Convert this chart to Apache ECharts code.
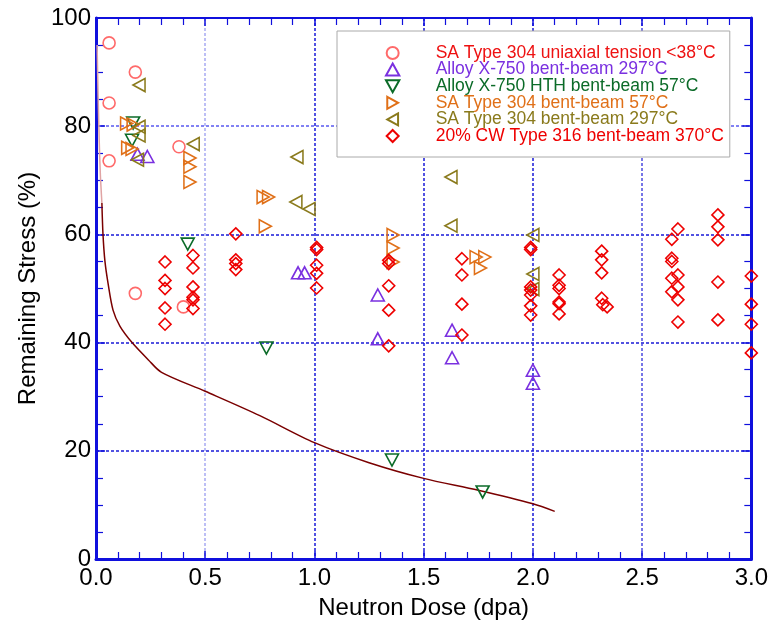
<!DOCTYPE html>
<html>
<head>
<meta charset="utf-8">
<script src="https://cdn.jsdelivr.net/npm/echarts@6/dist/echarts.min.js"></script>
<style>html,body{margin:0;padding:0;background:#fff}#c{width:771px;height:630px}</style>
</head>
<body>
<div id="c"></div>
<script>
// ---- data ----
const seriesNames = [
  'SA Type 304 uniaxial tension <38°C',
  'Alloy X-750 bent-beam 297°C',
  'Alloy X-750 HTH bent-beam 57°C',
  'SA Type 304 bent-beam 57°C',
  'SA Type 304 bent-beam 297°C',
  '20% CW Type 316 bent-beam 370°C'
];
const uniaxial304 = [[0.06,95.4],[0.06,84.3],[0.06,73.6],[0.18,90.0],[0.18,49.1],[0.38,76.2],[0.40,46.6]];
const x750_297 = [[0.19,74.8],[0.235,74.4],[0.925,52.9],[0.955,52.9],[1.29,48.8],[1.29,40.7],[1.63,42.3],[1.63,37.2],[2.0,34.9],[2.0,32.5]];
const x750HTH_57 = [[0.17,80.6],[0.165,77.4],[0.42,58.2],[0.78,39.0],[1.355,18.3],[1.77,12.4]];
const bb304_57 = [[0.14,80.5],[0.17,80.3],[0.145,76.0],[0.165,75.8],[0.43,74.1],[0.43,72.5],[0.43,69.7],[0.765,66.9],[0.79,66.9],[0.775,61.5],[1.36,59.9],[1.36,57.5],[1.36,54.9],[1.74,55.8],[1.78,55.8],[1.76,53.8]];
const bb304_297 = [[0.197,87.6],[0.197,79.9],[0.197,78.3],[0.19,73.8],[0.445,76.7],[0.92,74.3],[0.915,66.0],[0.975,64.7],[1.625,70.6],[1.625,61.6],[2.0,59.9],[2.0,52.7],[2.0,49.9]];
const cw316_370 = [
  [0.316,54.9],[0.316,51.5],[0.316,50.0],[0.316,46.4],[0.316,43.4],
  [0.444,56.1],[0.444,53.8],[0.444,50.3],[0.444,48.4],[0.444,47.9],[0.444,46.3],
  [0.64,60.1],[0.64,55.3],[0.64,54.6],[0.64,53.5],
  [1.01,57.6],[1.01,57.2],[1.01,54.3],[1.01,52.8],[1.01,50.1],
  [1.34,55.2],[1.34,54.6],[1.34,50.5],[1.34,46.0],[1.34,39.4],
  [1.675,55.5],[1.675,52.5],[1.675,47.1],[1.675,41.4],
  [1.99,57.6],[1.99,57.2],[1.99,50.3],[1.99,49.7],[1.99,48.8],[1.99,46.8],[1.99,45.1],
  [2.12,52.5],[2.12,50.6],[2.12,50.0],[2.12,47.5],[2.12,47.2],[2.12,45.3],
  [2.315,56.9],[2.315,55.3],[2.315,52.9],[2.315,48.2],[2.32,47.0],[2.34,46.6],
  [2.636,59.1],[2.636,55.6],[2.636,55.0],[2.636,51.9],[2.636,49.4],
  [2.664,61.0],[2.664,52.5],[2.664,50.3],[2.664,47.9],[2.664,43.8],
  [2.847,63.6],[2.847,61.4],[2.847,59.0],[2.847,51.2],[2.847,44.2],
  [3.0,52.3],[3.0,47.1],[3.0,43.4],[3.0,38.1]
];
const curvePaleX = [0.005,0.01,0.015,0.02,0.027];
const curvePaleY = [95,85,77,71,65.8];
const curveX = [0.027,0.032,0.041,0.055,0.078,0.11,0.165,0.24,0.3,0.5,0.75,1.0,1.25,1.5,1.75,2.0,2.1];
const curveY = [65.8,60,55,51,46,43,40,36.8,34.5,31,26.5,21.5,17.8,14.9,12.7,10.2,8.8];
const xTicks = ['0.0','0.5','1.0','1.5','2.0','2.5','3.0'];
const yTicks = ['0','20','40','60','80','100'];

// ---- styles ----
const colors = ['#ff5050','#7a30e0','#0b6b28','#e07018','#8a7a1c','#ee0000'];
const textColors = ['#ee1111','#7a30e0','#0b6b28','#e07018','#8a7a1c','#ee0000'];
const SYM = {
  circle: 'circle',
  up: 'path://M5,0L10,9L0,9Z',
  down: 'path://M0,0L10,0L5,9Z',
  right: 'path://M0,0L9,5L0,10Z',
  left: 'path://M9,0L0,5L9,10Z',
  diamond: 'path://M5,0L10,5L5,10L0,5Z'
};
const symKeys = ['circle','up','down','right','left','diamond'];
const symSizes = [12,[13,12],[13,12],[12,13],[12,13],12];
const FONT = 'Liberation Sans, Arial, sans-serif';
const AX = '#1010dd';
const GRIDC = '#1a1ad8';

const chart = echarts.init(document.getElementById('c'), null, {renderer:'canvas'});

function scatter(i, data) {
  return {
    name: seriesNames[i], type: 'scatter', data: data,
    symbol: SYM[symKeys[i]], symbolSize: symSizes[i],
    itemStyle: {color: 'rgba(255,255,255,0)', borderColor: colors[i], borderWidth: 1.6, opacity: i === 0 ? 0.85 : 1},
    z: 3 + i
  };
}

const xAxisBase = {
  type: 'value', min: 0, max: 3, interval: 0.5,
  axisLine: {onZero: false, lineStyle: {color: AX, width: 3}},
  axisTick: {inside: true, length: 8, lineStyle: {color: AX, width: 1.5}},
  minorTick: {show: true, splitNumber: 5, length: 7, lineStyle: {color: AX, width: 1.2}}
};
const yAxisBase = {
  type: 'value', min: 0, max: 100, interval: 20,
  axisLine: {onZero: false, lineStyle: {color: AX, width: 3}},
  axisTick: {inside: true, length: 9, lineStyle: {color: AX, width: 1.5}},
  minorTick: {show: true, splitNumber: 4, length: 7, lineStyle: {color: AX, width: 1.2}}
};

chart.setOption({
  animation: false,
  backgroundColor: '#fff',
  grid: {left: 96, top: 18, right: 19, bottom: 71, containLabel: false},
  legend: {
    orient: 'vertical', left: 337, top: 31,
    padding: [13, 6, 12, 48], itemGap: -1.4, itemWidth: 14, itemHeight: 12,
    backgroundColor: '#fff', borderColor: '#aaaaaa', borderWidth: 1,
    textStyle: {fontSize: 17.5, fontFamily: FONT, padding: [0, 0, 0, 31]},
    data: seriesNames.map((n, i) => ({name: n, icon: SYM[symKeys[i]], textStyle: {color: textColors[i]}}))
  },
  xAxis: [
    Object.assign({}, xAxisBase, {
      position: 'bottom',
      name: 'Neutron Dose (dpa)', nameLocation: 'middle', nameGap: 37,
      nameTextStyle: {fontSize: 24, fontFamily: FONT, color: '#000'},
      axisLabel: {fontSize: 24, fontFamily: FONT, color: '#000', margin: 7,
        formatter: v => xTicks[Math.round(v / 0.5)]},
      splitLine: {show: true, lineStyle: {type: [3, 2], width: 1.5,
        color: [GRIDC, '#a8aaf2', GRIDC, GRIDC, GRIDC, '#4a4ae0', GRIDC]}}
    }),
    Object.assign({}, xAxisBase, {
      position: 'top', axisLine: {onZero: false, lineStyle: {color: AX, width: 2}},
      axisLabel: {show: false}, splitLine: {show: false}
    })
  ],
  yAxis: [
    Object.assign({}, yAxisBase, {
      position: 'left',
      name: 'Remaining Stress (%)', nameLocation: 'middle', nameGap: 56,
      nameTextStyle: {fontSize: 24, fontFamily: FONT, color: '#000'},
      axisLabel: {fontSize: 24, fontFamily: FONT, color: '#000', margin: 5,
        formatter: v => yTicks[Math.round(v / 20)]},
      splitLine: {show: true, lineStyle: {type: [3, 2], width: 1.5,
        color: [GRIDC, GRIDC, GRIDC, GRIDC, '#5a5af0', GRIDC]}}
    }),
    Object.assign({}, yAxisBase, {
      position: 'right', axisLabel: {show: false}, splitLine: {show: false}
    })
  ],
  series: [
    {type: 'line', data: curvePaleX.map((x, i) => [x, curvePaleY[i]]), smooth: 0.3, symbol: 'none',
      lineStyle: {color: '#e0a4a4', width: 1.5}, z: 1, silent: true},
    {type: 'line', data: curveX.map((x, i) => [x, curveY[i]]), smooth: 0.3, symbol: 'none',
      lineStyle: {color: '#7a0000', width: 1.5}, z: 1, silent: true},
    scatter(0, uniaxial304),
    scatter(1, x750_297),
    scatter(2, x750HTH_57),
    scatter(3, bb304_57),
    scatter(4, bb304_297),
    scatter(5, cw316_370)
  ]
});
</script>
</body>
</html>
